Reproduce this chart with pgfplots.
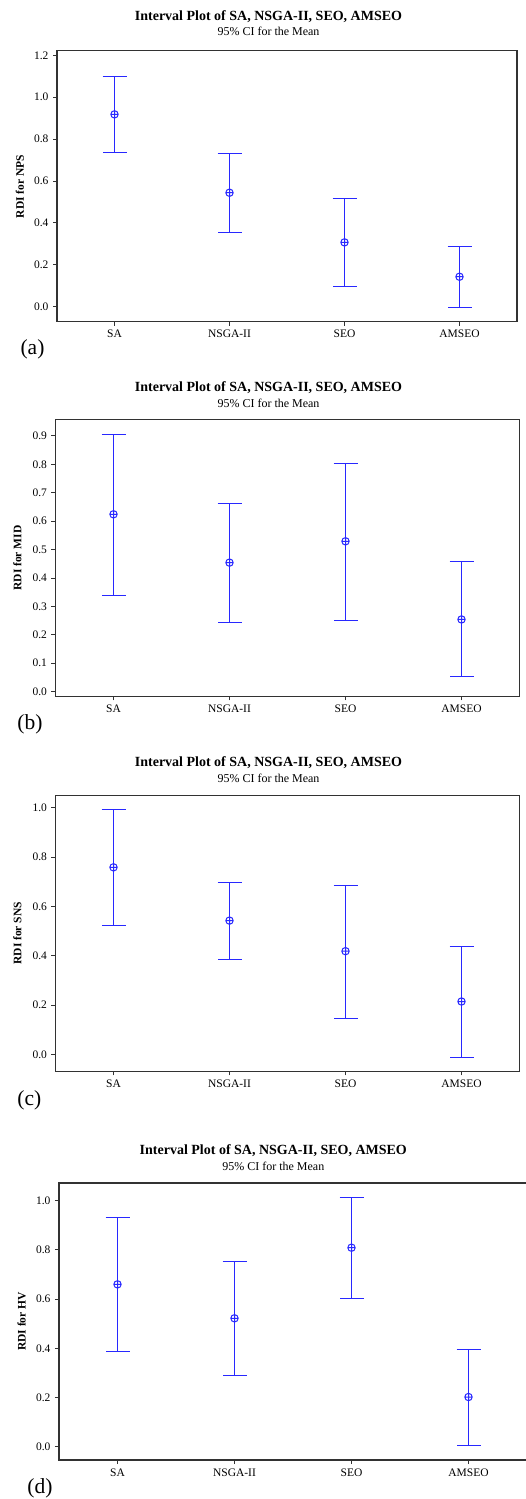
\documentclass[border=0pt]{standalone}
\usepackage{fontspec}
\setmainfont{Liberation Serif}
\usepackage{pgfplots}
\usepackage{pgfplotstable}
\pgfplotsset{compat=1.18}

\pgfplotstableread{
x mean lo hi
0 0.918 0.735 1.100
1 0.544 0.356 0.730
2 0.307 0.097 0.516
3 0.143 -0.003 0.286
}\dataA
\pgfplotstableread{
x mean lo hi
0 0.624 0.340 0.906
1 0.454 0.245 0.661
2 0.529 0.249 0.803
3 0.254 0.052 0.457
}\dataB
\pgfplotstableread{
x mean lo hi
0 0.758 0.522 0.992
1 0.542 0.384 0.695
2 0.418 0.146 0.685
3 0.214 -0.012 0.435
}\dataC
\pgfplotstableread{
x mean lo hi
0 0.660 0.386 0.930
1 0.522 0.291 0.752
2 0.809 0.603 1.012
3 0.202 0.004 0.397
}\dataD

\definecolor{ciblue}{RGB}{40,40,255}
\definecolor{axgray}{RGB}{50,50,50}

\pgfplotsset{
  intv/.style={
    scale only axis,
    anchor=south west,
    axis line style={draw=axgray, line width=1.1pt},
    xmin=-0.5, xmax=3.5,
    xtick={0,1,2,3},
    xticklabels={SA,NSGA-II,SEO,AMSEO},
    tick align=outside,
    major tick length=4pt,
    tick style={draw=axgray, line width=0.9pt},
    xtick pos=bottom, ytick pos=left,
    ticklabel style={font=\fontsize{11.5}{12}\selectfont},
    /pgf/number format/assume math mode=true,
    yticklabel style={/pgf/number format/fixed, /pgf/number format/fixed zerofill, /pgf/number format/precision=1, xshift=-1pt},
    scaled y ticks=false,
    xticklabel style={yshift=-1pt},
    every axis plot/.append style={color=ciblue},
  },
  ciplot/.style={
    color=ciblue, only marks, mark=oplus, mark size=3.7pt,
    mark options={color=ciblue, fill=none, line width=1pt},
    error bars/.cd, y dir=both, y explicit,
    error bar style={color=ciblue, line width=1pt},
    error mark options={rotate=90, mark size=12pt, line width=1pt, color=ciblue},
  },
}

\newcommand{\titfont}{\fontsize{14}{16}\selectfont\bfseries}
\newcommand{\subfont}{\fontsize{12}{14}\selectfont}
\newcommand{\ylfont}{\fontsize{11.5}{13}\selectfont\bfseries}
\newcommand{\tagfont}{\fontsize{21.5}{24}\selectfont}

\begin{document}
\begin{tikzpicture}[x=1pt,y=1pt]
\path[use as bounding box] (0,0) rectangle (526,1499);

% ---------- (a)
\begin{axis}[intv, at={(57pt,1177.3pt)}, width=460pt, height=271pt,
  ymin=-0.0716, ymax=1.222, ytick={0,0.2,...,1.2}]
\addplot[ciplot] table[x=x, y=mean,
  y error plus expr=\thisrow{hi}-\thisrow{mean},
  y error minus expr=\thisrow{mean}-\thisrow{lo}] {\dataA};
\end{axis}
\node[anchor=base, font=\titfont] at (268.5,1499-21) {Interval Plot of SA, NSGA-II, SEO, AMSEO};
\node[anchor=base, font=\subfont] at (268.5,1499-36) {95\% CI for the Mean};
\node[rotate=90, font=\ylfont] at (20,1499-186.5) {RDI for NPS};
\node[font=\tagfont] at (32.5,1499-349) {(a)};

% ---------- (b)
\begin{axis}[intv, at={(55.5pt,802.7pt)}, width=464pt, height=276.6pt,
  ymin=-0.0164, ymax=0.957, ytick={0,0.1,...,0.9}]
\addplot[ciplot] table[x=x, y=mean,
  y error plus expr=\thisrow{hi}-\thisrow{mean},
  y error minus expr=\thisrow{mean}-\thisrow{lo}] {\dataB};
\end{axis}
\node[anchor=base, font=\titfont] at (268.5,1499-391.7) {Interval Plot of SA, NSGA-II, SEO, AMSEO};
\node[anchor=base, font=\subfont] at (268.5,1499-407.7) {95\% CI for the Mean};
\node[rotate=90, font=\ylfont] at (17.3,1499-558) {RDI for MID};
\node[font=\tagfont] at (30,1499-724) {(b)};

% ---------- (c)
\begin{axis}[intv, at={(55.5pt,427.7pt)}, width=464pt, height=276pt,
  ymin=-0.0689, ymax=1.05, ytick={0,0.2,...,1.0}]
\addplot[ciplot] table[x=x, y=mean,
  y error plus expr=\thisrow{hi}-\thisrow{mean},
  y error minus expr=\thisrow{mean}-\thisrow{lo}] {\dataC};
\end{axis}
\node[anchor=base, font=\titfont] at (268.5,1499-767) {Interval Plot of SA, NSGA-II, SEO, AMSEO};
\node[anchor=base, font=\subfont] at (268.5,1499-783) {95\% CI for the Mean};
\node[rotate=90, font=\ylfont] at (17.3,1499-933.3) {RDI for SNS};
\node[font=\tagfont] at (29.3,1499-1100) {(c)};

% ---------- (d)
\begin{axis}[intv, at={(59pt,39pt)}, width=468pt, height=277pt,
  ymin=-0.054, ymax=1.072, ytick={0,0.2,...,1.0}]
\addplot[ciplot] table[x=x, y=mean,
  y error plus expr=\thisrow{hi}-\thisrow{mean},
  y error minus expr=\thisrow{mean}-\thisrow{lo}] {\dataD};
\end{axis}
\node[anchor=base, font=\titfont] at (273.3,1499-1155) {Interval Plot of SA, NSGA-II, SEO, AMSEO};
\node[anchor=base, font=\subfont] at (273.3,1499-1170.7) {95\% CI for the Mean};
\node[rotate=90, font=\ylfont] at (21.7,1499-1321.5) {RDI for HV};
\node[font=\tagfont] at (40,1499-1488.3) {(d)};
\end{tikzpicture}
\end{document}
